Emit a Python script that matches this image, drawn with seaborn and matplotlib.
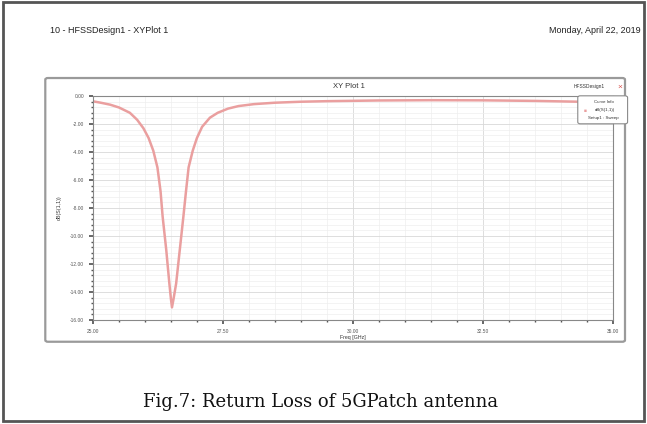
import numpy as np
import pandas as pd
import matplotlib
matplotlib.use("Agg")
import matplotlib.pyplot as plt
from matplotlib.patches import Rectangle, FancyBboxPatch
from matplotlib.ticker import MultipleLocator
import seaborn as sns

# S11 curve
freq_ghz = [25.00, 25.15, 25.33, 25.50, 25.71, 25.85, 25.97, 26.07, 26.16, 26.24,
            26.30, 26.34, 26.41, 26.47, 26.50, 26.52, 26.55, 26.60, 26.67, 26.74,
            26.79, 26.84, 26.92, 27.00, 27.10, 27.25, 27.40, 27.60, 27.80, 28.10,
            28.50, 29.00, 29.50, 30.50, 31.50, 32.50, 33.50, 34.50, 35.00]
s11_db = [-0.38, -0.48, -0.62, -0.82, -1.20, -1.70, -2.30, -3.00, -3.90, -5.10,
          -6.80, -8.60, -11.00, -13.40, -14.50, -15.10, -14.50, -13.40, -11.00, -8.60,
          -6.80, -5.10, -3.90, -3.00, -2.20, -1.55, -1.20, -0.90, -0.72, -0.58,
          -0.48, -0.41, -0.37, -0.32, -0.30, -0.31, -0.35, -0.42, -0.47]

x_ticks = [25.0, 27.5, 30.0, 32.5, 35.0]
y_ticks = [0, -2, -4, -6, -8, -10, -12, -14, -16]

header_left = "10 - HFSSDesign1 - XYPlot 1"
header_right = "Monday, April 22, 2019"
plot_title = "XY Plot 1"
design_name = "HFSSDesign1"
legend_lines = ["Curve Info", "dB(S(1,1))", "Setup1 : Sweep"]
caption = "Fig.7: Return Loss of 5GPatch antenna"

curve_color = "#ea9f9f"

df = pd.DataFrame({"freq": freq_ghz, "s11": s11_db})

sns.set_theme(style="white")
plt.rcParams["font.family"] = ["Liberation Sans", "DejaVu Sans"]

fig = plt.figure(figsize=(6.47, 4.24), dpi=100)
fig.patch.set_facecolor("white")

# page frame
fig.patches.append(Rectangle((0.004, 0.006), 0.992, 0.989, transform=fig.transFigure,
                             fill=False, edgecolor="#555555", linewidth=2.0, zorder=0.2))

fig.text(0.078, 0.928, header_left, fontsize=6.5, color="#222222", va="center")
fig.text(0.99, 0.928, header_right, fontsize=6.5, color="#222222", va="center", ha="right")

# plot box, kept behind the axes
fig.patches.append(FancyBboxPatch((0.07, 0.194), 0.896, 0.622, transform=fig.transFigure,
                                  boxstyle="round,pad=0,rounding_size=0.004",
                                  facecolor="white", edgecolor="#9a9a9a", linewidth=1.6,
                                  zorder=0.3))
fig.text(0.54, 0.795, plot_title, fontsize=5.5, color="#333333", ha="center", va="center")
fig.text(0.935, 0.795, design_name, fontsize=3.5, color="#333333", ha="right", va="center")
fig.text(0.958, 0.795, "\u00d7", fontsize=6, color="#d9534f", ha="center", va="center")

ax = fig.add_axes([0.1437, 0.2453, 0.8033, 0.5283])
ax.set_zorder(1)
sns.lineplot(data=df, x="freq", y="s11", ax=ax, color=curve_color, linewidth=1.8)

ax.set_xlim(25, 35)
ax.set_ylim(-16, 0)
ax.set_xticks(x_ticks)
ax.set_xticklabels([f"{v:.2f}" for v in x_ticks])
ax.set_yticks(y_ticks)
ax.set_yticklabels([f"{v:.2f}" if v != 0 else "0.00" for v in y_ticks])
ax.xaxis.set_minor_locator(MultipleLocator(0.5))
ax.yaxis.set_minor_locator(MultipleLocator(0.4))
ax.grid(which="major", color="#d8d8d8", linewidth=0.6)
ax.grid(which="minor", color="#eeeeee", linewidth=0.5)
ax.tick_params(which="both", direction="out", labelsize=3.5, colors="#555555",
               bottom=True, left=True)
ax.tick_params(which="major", length=3)
ax.tick_params(which="minor", length=1.5)
for s in ax.spines.values():
    s.set_color("#888888")
    s.set_linewidth(0.8)
ax.set_xlabel("Freq [GHz]", fontsize=3.8, labelpad=1, color="#333333")
ax.set_ylabel("dB(S(1,1))", fontsize=3.8, labelpad=6, color="#333333")

# legend box, above the axes
fig.patches.append(FancyBboxPatch((0.893, 0.708), 0.077, 0.066, transform=fig.transFigure,
                                  boxstyle="round,pad=0,rounding_size=0.004",
                                  facecolor="white", edgecolor="#8a8a8a", linewidth=0.8,
                                  zorder=2))
fig.text(0.933, 0.760, legend_lines[0], fontsize=3.2, color="#333333", ha="center", va="center", zorder=3)
fig.text(0.905, 0.740, "\u25a0", fontsize=3.5, color=curve_color, ha="center", va="center", zorder=3)
fig.text(0.95, 0.740, legend_lines[1], fontsize=3.2, color="#333333", ha="right", va="center", zorder=3)
fig.text(0.933, 0.722, legend_lines[2], fontsize=3.2, color="#333333", ha="center", va="center", zorder=3)

fig.text(0.496, 0.052, caption, fontsize=13, family=["DejaVu Serif", "Liberation Serif"],
         color="#111111", ha="center", va="center")

fig.savefig("out.png", dpi=100)
